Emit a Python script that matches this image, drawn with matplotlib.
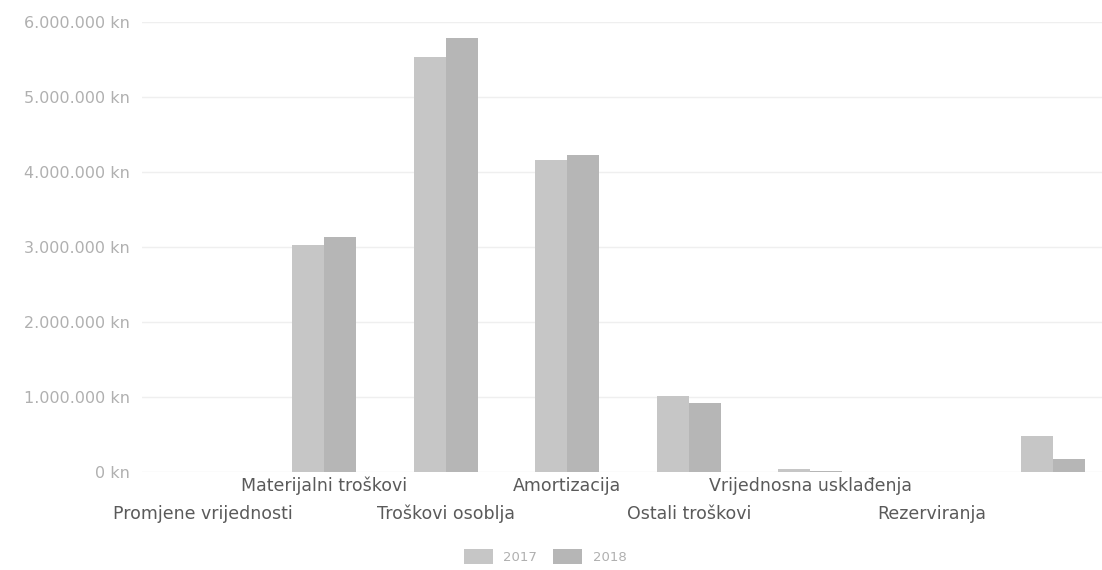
import numpy as np
import matplotlib.pyplot as plt

# kategorije troskova i vrijednosti po godinama (kn)
kategorije = ['Promjene vrijednosti', 'Materijalni troškovi', 'Troškovi osoblja',
              'Amortizacija', 'Ostali troškovi', 'Vrijednosna usklađenja',
              'Rezerviranja', '']
god_2017 = [0, 3030000, 5530000, 4160000, 1010000, 45000, 0, 480000]
god_2018 = [0, 3130000, 5790000, 4230000, 920000, 8000, 0, 170000]
godine = ['2017', '2018']
yticks = [0, 1000000, 2000000, 3000000, 4000000, 5000000, 6000000]

fig = plt.figure(figsize=(11.02, 5.70), dpi=100)
# os namjerno ide malo preko desnog ruba slike
ax = fig.add_axes([142/1102, 98/570, 972/1102, 450/570])

x = np.arange(len(kategorije))
w = 0.265
ax.bar(x - w/2, god_2017, w, color='#c6c6c6', label=godine[0])
ax.bar(x + w/2, god_2018, w, color='#b6b6b6', label=godine[1])

ax.set_xlim(-0.5, len(kategorije) - 0.5)
ax.set_ylim(0, 6000000)
ax.set_yticks(yticks)
ax.set_yticklabels(['0 kn' if v == 0 else f'{v:,} kn'.replace(',', '.') for v in yticks],
                   color='#b0b0b0', fontsize=11.5)
ax.tick_params(axis='y', length=0, pad=9)
ax.yaxis.grid(True, color='#efefef', linewidth=1)
ax.set_axisbelow(True)
for s in ax.spines.values():
    s.set_visible(False)

# natpisi kategorija u dva reda
ax.set_xticks(x)
ax.set_xticklabels([])
ax.tick_params(axis='x', length=0)
for i, k in enumerate(kategorije):
    dy = -10 if i % 2 == 1 else -30
    ax.annotate(k, xy=(i, 0), xytext=(0, dy), textcoords='offset points',
                ha='center', va='center', fontsize=12.5, color='#5a5a5a')

ax.legend(loc='upper center', bbox_to_anchor=(403/972, -0.145), ncol=2, frameon=False,
          fontsize=9.5, handlelength=2.2, handleheight=1.3, columnspacing=1.2,
          labelcolor='#b0b0b0')

plt.savefig('out.png', dpi=100)
